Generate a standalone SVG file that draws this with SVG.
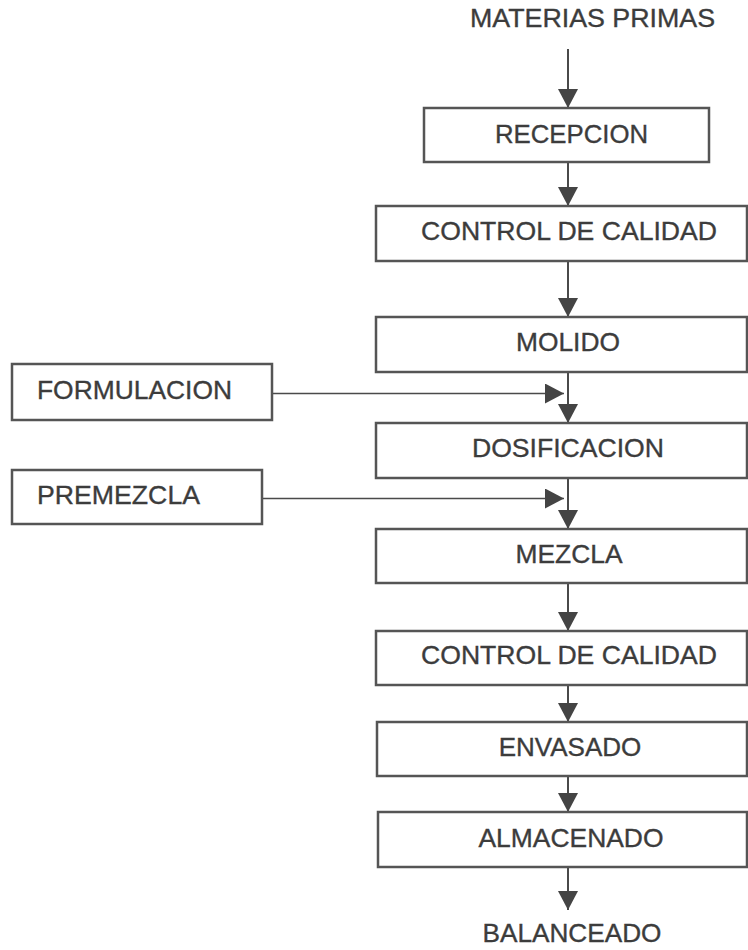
<svg xmlns="http://www.w3.org/2000/svg" width="748" height="950" viewBox="0 0 748 950">
<style>
  .box { fill: #ffffff; stroke: #555555; stroke-width: 2.5; }
  .lbl { font-family: "Liberation Sans", Arial, sans-serif; font-size: 26px; fill: #3c3c3c; stroke: #3c3c3c; stroke-width: 0.35; text-anchor: middle; }
  .lbl-l { font-family: "Liberation Sans", Arial, sans-serif; font-size: 26px; fill: #3c3c3c; stroke: #3c3c3c; stroke-width: 0.35; text-anchor: start; }
  .v { stroke: #4a4a4a; stroke-width: 2; fill: none; marker-end: url(#ah); }
  .h { stroke: #4a4a4a; stroke-width: 1.6; fill: none; marker-end: url(#ah); }
</style>
<defs>
  <marker id="ah" markerUnits="userSpaceOnUse" viewBox="0 0 19 20" markerWidth="19" markerHeight="20" refX="19" refY="10" orient="auto">
    <path d="M0,0 L19,10 L0,20 Z" fill="#444444"/>
  </marker>
</defs>
<rect x="0" y="0" width="748" height="950" fill="#ffffff"/>

<g id="connectors">
  <line class="v" x1="568" y1="49" x2="568" y2="108"/>
  <line class="v" x1="568" y1="162" x2="568" y2="206"/>
  <line class="v" x1="568" y1="261" x2="568" y2="317"/>
  <line class="v" x1="568" y1="372" x2="568" y2="423"/>
  <line class="v" x1="568" y1="478" x2="568" y2="529"/>
  <line class="v" x1="568" y1="583" x2="568" y2="631"/>
  <line class="v" x1="568" y1="685" x2="568" y2="722"/>
  <line class="v" x1="568" y1="776" x2="568" y2="812"/>
  <line class="v" x1="568" y1="867" x2="568" y2="910"/>
  <line class="h" x1="272" y1="393.5" x2="564" y2="393.5"/>
  <line class="h" x1="262" y1="498.5" x2="564" y2="498.5"/>
</g>

<g id="materias-primas">
  <text class="lbl" x="592.5" y="27" textLength="245" lengthAdjust="spacingAndGlyphs">MATERIAS PRIMAS</text>
</g>
<g id="recepcion">
  <rect class="box" x="424" y="108" width="285" height="54"/>
  <text class="lbl" x="571.5" y="143" textLength="153" lengthAdjust="spacingAndGlyphs">RECEPCION</text>
</g>
<g id="control-calidad-1">
  <rect class="box" x="376" y="206" width="371" height="55"/>
  <text class="lbl" x="569" y="240" textLength="296" lengthAdjust="spacingAndGlyphs">CONTROL DE CALIDAD</text>
</g>
<g id="molido">
  <rect class="box" x="376" y="317" width="371" height="55"/>
  <text class="lbl" x="568" y="351" textLength="104" lengthAdjust="spacingAndGlyphs">MOLIDO</text>
</g>
<g id="formulacion">
  <rect class="box" x="12" y="364" width="260" height="56"/>
  <text class="lbl-l" x="37" y="399" textLength="195" lengthAdjust="spacingAndGlyphs">FORMULACION</text>
</g>
<g id="dosificacion">
  <rect class="box" x="376" y="423" width="371" height="55"/>
  <text class="lbl" x="568" y="457" textLength="192" lengthAdjust="spacingAndGlyphs">DOSIFICACION</text>
</g>
<g id="premezcla">
  <rect class="box" x="12" y="470" width="250" height="54"/>
  <text class="lbl-l" x="37" y="504" textLength="163" lengthAdjust="spacingAndGlyphs">PREMEZCLA</text>
</g>
<g id="mezcla">
  <rect class="box" x="376" y="529" width="371" height="54"/>
  <text class="lbl" x="569" y="562.5" textLength="107" lengthAdjust="spacingAndGlyphs">MEZCLA</text>
</g>
<g id="control-calidad-2">
  <rect class="box" x="376" y="631" width="371" height="54"/>
  <text class="lbl" x="569" y="664" textLength="296" lengthAdjust="spacingAndGlyphs">CONTROL DE CALIDAD</text>
</g>
<g id="envasado">
  <rect class="box" x="377" y="722" width="370" height="54"/>
  <text class="lbl" x="570" y="756">ENVASADO</text>
</g>
<g id="almacenado">
  <rect class="box" x="378" y="812" width="369" height="55"/>
  <text class="lbl" x="571" y="846.5" textLength="185" lengthAdjust="spacingAndGlyphs">ALMACENADO</text>
</g>
<g id="balanceado">
  <text class="lbl" x="572" y="942" textLength="179" lengthAdjust="spacingAndGlyphs">BALANCEADO</text>
</g>
</svg>
